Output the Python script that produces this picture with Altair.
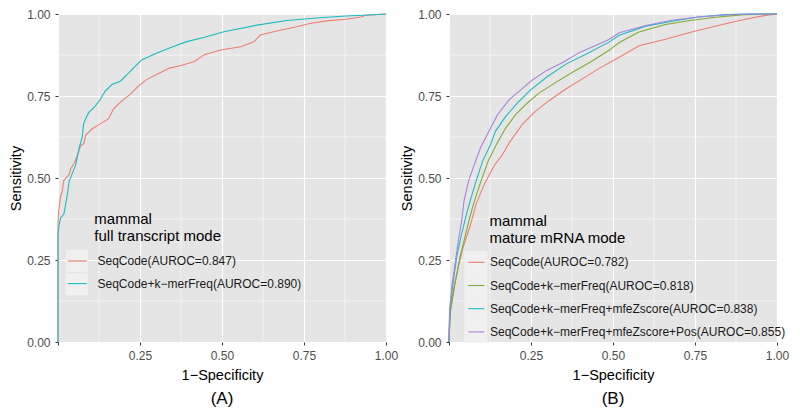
import altair as alt
import pandas as pd

FONT = "Liberation Sans"

# ---------------- data: panel A (full transcript mode) ----------------
a_names = ["SeqCode(AUROC=0.847)", "SeqCode+k\u2212merFreq(AUROC=0.890)"]
a_colors = ["#EE7D73", "#1CBBC0"]
a_title = "mammal\nfull transcript mode"

a_seq_x = [0, 0, 0.002, 0.008, 0.013, 0.018, 0.024, 0.029, 0.034, 0.039, 0.049, 0.059,
           0.069, 0.079, 0.084, 0.104, 0.129, 0.154, 0.169, 0.195, 0.22, 0.245, 0.27,
           0.31, 0.34, 0.375, 0.416, 0.446, 0.496, 0.557, 0.597, 0.617, 0.667, 0.727,
           0.768, 0.818, 0.878, 0.923, 0.939, 1.0]
a_seq_y = [0, 0.36, 0.40, 0.444, 0.46, 0.494, 0.499, 0.505, 0.51, 0.529, 0.544, 0.569,
           0.599, 0.605, 0.63, 0.65, 0.665, 0.68, 0.71, 0.735, 0.755, 0.78, 0.80,
           0.82, 0.835, 0.843, 0.855, 0.876, 0.89, 0.90, 0.915, 0.936, 0.948, 0.961,
           0.971, 0.979, 0.984, 0.991, 0.996, 1.0]

a_kmer_x = [0, 0, 0.004, 0.008, 0.018, 0.024, 0.029, 0.034, 0.044, 0.054, 0.064, 0.074,
            0.078, 0.084, 0.094, 0.114, 0.129, 0.144, 0.164, 0.19, 0.215, 0.235, 0.255,
            0.30, 0.35, 0.39, 0.45, 0.506, 0.607, 0.697, 0.788, 0.878, 0.93, 1.0]
a_kmer_y = [0, 0.33, 0.36, 0.378, 0.39, 0.424, 0.452, 0.49, 0.515, 0.54, 0.59, 0.625,
            0.665, 0.68, 0.70, 0.72, 0.74, 0.765, 0.785, 0.795, 0.82, 0.84, 0.86,
            0.88, 0.90, 0.915, 0.93, 0.946, 0.966, 0.98, 0.988, 0.994, 0.996, 1.0]

# ---------------- data: panel B (mature mRNA mode) ----------------
b_names = ["SeqCode(AUROC=0.782)",
           "SeqCode+k\u2212merFreq(AUROC=0.818)",
           "SeqCode+k\u2212merFreq+mfeZscore(AUROC=0.838)",
           "SeqCode+k\u2212merFreq+mfeZscore+Pos(AUROC=0.855)"]
b_colors = ["#EE7D73", "#80AB35", "#1CBBC0", "#A585DC"]
b_title = "mammal\nmature mRNA mode"

b_seq_x = [0, 0, 0.004, 0.014, 0.029, 0.044, 0.064, 0.083, 0.108, 0.138, 0.164, 0.184,
           0.223, 0.263, 0.308, 0.358, 0.408, 0.459, 0.519, 0.579, 0.66, 0.74, 0.82,
           0.90, 0.961, 1.0]
b_seq_y = [0, 0.04, 0.092, 0.162, 0.232, 0.292, 0.352, 0.422, 0.482, 0.538, 0.573, 0.608,
           0.663, 0.703, 0.738, 0.773, 0.803, 0.835, 0.868, 0.903, 0.923, 0.945, 0.965,
           0.983, 0.995, 1.0]

b_kmer_x = [0, 0.004, 0.019, 0.034, 0.049, 0.064, 0.078, 0.098, 0.12, 0.145, 0.173,
            0.203, 0.238, 0.273, 0.328, 0.378, 0.439, 0.489, 0.519, 0.579, 0.66, 0.74,
            0.82, 0.90, 1.0]
b_kmer_y = [0, 0.092, 0.182, 0.262, 0.322, 0.382, 0.432, 0.492, 0.553, 0.603, 0.653,
            0.693, 0.728, 0.758, 0.793, 0.823, 0.858, 0.89, 0.913, 0.945, 0.968, 0.981,
            0.991, 0.998, 1.0]

b_mfe_x = [0, 0.004, 0.014, 0.024, 0.039, 0.054, 0.065, 0.083, 0.103, 0.125, 0.142,
           0.173, 0.208, 0.248, 0.298, 0.358, 0.419, 0.489, 0.519, 0.6, 0.68, 0.76,
           0.84, 0.90, 1.0]
b_mfe_y = [0, 0.112, 0.192, 0.262, 0.332, 0.392, 0.432, 0.492, 0.553, 0.598, 0.643,
           0.688, 0.728, 0.768, 0.808, 0.848, 0.878, 0.915, 0.935, 0.963, 0.978, 0.991,
           0.998, 1.0, 1.0]

b_pos_x = [0, 0.001, 0.002, 0.009, 0.019, 0.029, 0.039, 0.046, 0.06, 0.078, 0.096,
           0.122, 0.148, 0.183, 0.218, 0.253, 0.298, 0.348, 0.398, 0.449, 0.489, 0.519,
           0.6, 0.68, 0.76, 0.84, 0.92, 1.0]
b_pos_y = [0, 0.072, 0.10, 0.172, 0.242, 0.312, 0.372, 0.432, 0.492, 0.543, 0.592,
           0.643, 0.693, 0.738, 0.768, 0.798, 0.828, 0.853, 0.883, 0.905, 0.923, 0.943,
           0.965, 0.981, 0.991, 0.997, 1.0, 1.0]

axis_breaks = [0, 0.25, 0.5, 0.75, 1.0]
minor_breaks = [0.125, 0.375, 0.625, 0.875]

PANEL_BG = "#E5E5E5"
KEY_BG = "#F0F0F0"
W = 328
H = 328


def long_df(names, xs, ys):
    rows = []
    for n, xv, yv in zip(names, xs, ys):
        for i, (a, b) in enumerate(zip(xv, yv)):
            rows.append({"series": n, "fpr": a, "tpr": b, "i": i})
    return pd.DataFrame(rows)


def panel(df, names, colors, legend_title, tag, leg, box, ttl):
    xs = alt.Scale(domain=[0, 1], nice=False, zero=False)
    ys = alt.Scale(domain=[0, 1], nice=False, zero=False)
    xaxis = alt.Axis(values=axis_breaks,
                     labelExpr="datum.value == 0 ? '' : format(datum.value, '.2f')",
                     title="1\u2212Specificity", labelFlush=False, labelOverlap=False,
                     titlePadding=7.5, labelPadding=5)
    yaxis = alt.Axis(values=axis_breaks, format=".2f", title="Sensitivity",
                     labelFlush=False, labelOverlap=False, titlePadding=3, labelPadding=5)
    minor = pd.DataFrame({"b": minor_breaks})
    vgrid = alt.Chart(minor).mark_rule(color="white", strokeWidth=0.55).encode(
        x=alt.X("b:Q", scale=xs, axis=xaxis))
    hgrid = alt.Chart(minor).mark_rule(color="white", strokeWidth=0.55).encode(
        y=alt.Y("b:Q", scale=ys, axis=yaxis))
    key_ids = ["key " + n for n in names]
    boxes = alt.Chart(pd.DataFrame({"k": key_ids})).transform_filter("false").mark_square(
        filled=True, opacity=1).encode(
        fill=alt.Fill("k:N", scale=alt.Scale(domain=key_ids, range=[KEY_BG] * len(key_ids)),
                      legend=alt.Legend(orient="none", legendX=box["x"], legendY=box["y"],
                                        title=None, symbolType="square",
                                        symbolSize=box["s"] ** 2, symbolStrokeWidth=0,
                                        labelExpr="''", labelFontSize=1,
                                        rowPadding=box["rp"], padding=0, zindex=1)))
    lines = alt.Chart(df).mark_line(strokeWidth=1.1).encode(
        x=alt.X("fpr:Q", scale=xs, axis=xaxis),
        y=alt.Y("tpr:Q", scale=ys, axis=yaxis),
        color=alt.Color("series:N", scale=alt.Scale(domain=names, range=colors),
                        legend=alt.Legend(orient="none", legendX=leg["x"], legendY=leg["y"],
                                          title=None, labelFont=FONT, labelFontSize=12,
                                          labelColor="#1A1A1A", labelLimit=400,
                                          symbolType="stroke",
                                          symbolSize=leg["ss"], symbolStrokeWidth=1.1,
                                          symbolOffset=leg["so"], labelOffset=leg["lo"],
                                          rowPadding=leg["rp"], padding=0, zindex=2)),
        order=alt.Order("i:Q"),
    )
    title_txt = alt.Chart(pd.DataFrame({"t": [legend_title]})).mark_text(
        align="left", baseline="alphabetic", fontSize=15, font=FONT, color="#000000",
        lineBreak="\n", lineHeight=17).encode(
        x=alt.value(ttl["x"]), y=alt.value(ttl["y"]), text="t:N")
    return alt.layer(vgrid, hgrid, boxes, lines, title_txt).properties(
        width=W, height=H,
        view=alt.ViewBackground(fill=PANEL_BG, strokeWidth=0),
        title=alt.TitleParams(tag, orient="bottom", frame="group", anchor="middle",
                              fontSize=17, fontWeight="normal", font=FONT,
                              color="#000000", offset=9))


df_a = long_df(a_names, [a_seq_x, a_kmer_x], [a_seq_y, a_kmer_y])
df_b = long_df(b_names, [b_seq_x, b_kmer_x, b_mfe_x, b_pos_x],
               [b_seq_y, b_kmer_y, b_mfe_y, b_pos_y])

chart_a = panel(df_a, a_names, a_colors, a_title, "(A)",
                leg={"x": 8.8, "y": 236.5, "ss": 361, "so": 0, "lo": 9.7, "rp": 5.6},
                box={"x": 7.8, "y": 236, "s": 22, "rp": 1.3},
                ttl={"x": 36.3, "y": 210})
chart_b = panel(df_b, b_names, b_colors, b_title, "(B)",
                leg={"x": 18.3, "y": 239.3, "ss": 256, "so": 0, "lo": 4.7, "rp": 8.2},
                box={"x": 15.3, "y": 236.8, "s": 23, "rp": 0},
                ttl={"x": 40.4, "y": 211.7})

chart = alt.hconcat(chart_a, chart_b, spacing=63, bounds="flush").resolve_scale(
    color="independent", fill="independent"
).properties(
    padding={"left": 0, "top": 0, "right": 0, "bottom": 0}
).configure(font=FONT).configure_view(fill=PANEL_BG, strokeWidth=0).configure_axis(
    grid=True, gridColor="white", gridWidth=1.1, domain=False,
    ticks=True, tickColor="#333333", tickSize=3, tickWidth=1,
    labelFont=FONT, labelFontSize=12, labelColor="#4D4D4D",
    titleFont=FONT, titleFontSize=14.5, titleFontWeight="normal", titleColor="#000000"
)

chart.save("out.html", embed_options={"renderer": "svg", "actions": False})
